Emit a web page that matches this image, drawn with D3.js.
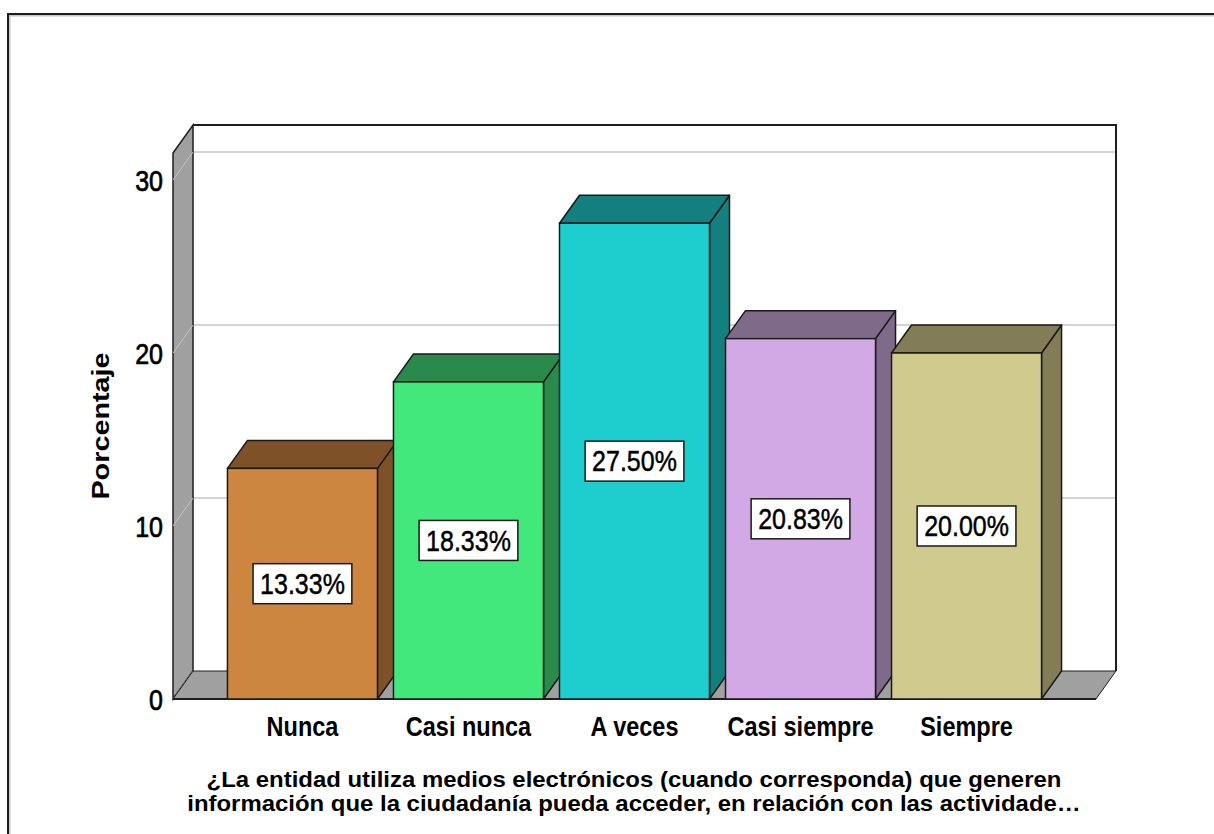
<!DOCTYPE html>
<html>
<head>
<meta charset="utf-8">
<script src="https://cdn.jsdelivr.net/npm/d3@7/dist/d3.min.js"></script>
<style>
  html, body { margin: 0; padding: 0; background: #fff; }
  svg { display: block; }
  text { font-family: "Liberation Sans", Arial, sans-serif; fill: #000; }
</style>
</head>
<body>
<svg id="chart" width="1214" height="834"></svg>
<script>
// Response categories and their percentages
const categories = ["Nunca", "Casi nunca", "A veces", "Casi siempre", "Siempre"];
const percentages = [13.33, 18.33, 27.50, 20.83, 20.00];
const yTicks = [0, 10, 20, 30];
const frontColors = ["#cd8640", "#43e87c", "#1ecece", "#d2a9e4", "#d0ca8f"];
const sideColors  = ["#7f5128", "#2a8a4c", "#137f7f", "#7f6a8a", "#827d57"];
const yTitle = "Porcentaje";
const xTitleLines = [
  "¿La entidad utiliza medios electrónicos (cuando corresponda) que generen",
  "información que la ciudadanía pueda acceder, en relación con las actividade…"
];

const svg = d3.select("#chart");
const STRETCH = 1.2;      // vertical stretch applied to text glyphs
const depthX = 20, depthY = -28;   // 3D depth offset

const x0 = 173, x1 = 1096;
const yBase = 699, yTop = 153;

const x = d3.scaleBand().domain(categories).range([x0, x1])
  .paddingInner(0.0964).paddingOuter(0.328);
const y = d3.scaleLinear().domain([0, 31.56]).range([yBase, yTop]);

// Outer frame
svg.append("path")
  .attr("d", "M9,900 L9,15 L1300,15")
  .attr("fill", "none").attr("stroke", "#c8c8c8").attr("stroke-width", 3);
svg.append("path")
  .attr("d", "M8,900 L8,14 L1300,14")
  .attr("fill", "none").attr("stroke", "#1e1e1e").attr("stroke-width", 2);

// Back wall
svg.append("rect")
  .attr("x", x0 + depthX).attr("y", yTop + depthY)
  .attr("width", x1 - x0).attr("height", yBase - yTop)
  .attr("fill", "#fff");

// Gridlines on the back wall
svg.append("g").selectAll("line").data(yTicks.filter(d => d > 0)).join("line")
  .attr("x1", x0 + depthX).attr("x2", x1 + depthX)
  .attr("y1", d => y(d) + depthY).attr("y2", d => y(d) + depthY)
  .attr("stroke", "#d4d4d4").attr("stroke-width", 2);

// Back wall border (top and right)
svg.append("path")
  .attr("d", `M${x0 + depthX},${yTop + depthY} L${x1 + depthX},${yTop + depthY} L${x1 + depthX},${yBase + depthY}`)
  .attr("fill", "none").attr("stroke", "#1e1e1e").attr("stroke-width", 2);

// Side wall
svg.append("path")
  .attr("d", `M${x0},${yTop} L${x0 + depthX},${yTop + depthY} L${x0 + depthX},${yBase + depthY} L${x0},${yBase} Z`)
  .attr("fill", "#a0a0a0").attr("stroke", "#1e1e1e").attr("stroke-width", 1.5);

// Gridlines continued on the side wall
svg.append("g").selectAll("line").data(yTicks).join("line")
  .attr("x1", x0).attr("x2", x0 + depthX)
  .attr("y1", d => y(d)).attr("y2", d => y(d) + depthY)
  .attr("stroke", "#c4c4c4").attr("stroke-width", 1);

// Floor
svg.append("path")
  .attr("d", `M${x0},${yBase} L${x0 + depthX},${yBase + depthY} L${x1 + depthX},${yBase + depthY} L${x1},${yBase} Z`)
  .attr("fill", "#a0a0a0").attr("stroke", "#1e1e1e").attr("stroke-width", 1);
svg.append("line")
  .attr("x1", x0).attr("x2", x1).attr("y1", yBase).attr("y2", yBase)
  .attr("stroke", "#1e1e1e").attr("stroke-width", 2);

// Bars (front, top and right faces), drawn left to right
const bars = svg.append("g").selectAll("g").data(categories).join("g");
bars.each(function (c, i) {
  const g = d3.select(this);
  const bx = x(c), bw = x.bandwidth();
  const by = y(percentages[i]);
  g.append("path")
    .attr("d", `M${bx + bw},${by} L${bx + bw + depthX},${by + depthY} L${bx + bw + depthX},${yBase + depthY} L${bx + bw},${yBase} Z`)
    .attr("fill", sideColors[i]).attr("stroke", "#1a1a1a").attr("stroke-width", 1.5)
    .attr("stroke-linejoin", "round");
  g.append("path")
    .attr("d", `M${bx},${by} L${bx + depthX},${by + depthY} L${bx + bw + depthX},${by + depthY} L${bx + bw},${by} Z`)
    .attr("fill", sideColors[i]).attr("stroke", "#1a1a1a").attr("stroke-width", 1.5)
    .attr("stroke-linejoin", "round");
  g.append("rect")
    .attr("x", bx).attr("y", by).attr("width", bw).attr("height", yBase - by)
    .attr("fill", frontColors[i]).attr("stroke", "#1a1a1a").attr("stroke-width", 1.5);
});

// Value labels in boxes
bars.each(function (c, i) {
  const g = d3.select(this);
  const cx = x(c) + x.bandwidth() / 2;
  const cy = (y(percentages[i]) + yBase) / 2;
  const lg = g.append("g").attr("transform", `translate(${cx},${cy})`);
  const t = lg.append("text")
    .attr("text-anchor", "middle")
    .attr("transform", `scale(1,${STRETCH})`)
    .attr("y", 8.5)
    .style("font-size", "25px")
    .style("stroke", "#000").style("stroke-width", 0.4)
    .text(percentages[i].toFixed(2) + "%");
  const w = t.node().getComputedTextLength();
  lg.insert("rect", "text")
    .attr("x", -w / 2 - 7).attr("y", -20)
    .attr("width", w + 14).attr("height", 40)
    .attr("fill", "#fff").attr("stroke", "#1a1a1a").attr("stroke-width", 1.5);
});

// Y tick labels
svg.append("g").selectAll("text").data(yTicks).join("text")
  .attr("transform", d => `translate(163,${y(d)}) scale(1,${STRETCH})`)
  .attr("y", 9)
  .attr("text-anchor", "end")
  .style("font-size", "25px")
  .style("stroke", "#000").style("stroke-width", 0.6)
  .text(d => d);

// Category labels
svg.append("g").selectAll("text").data(categories).join("text")
  .attr("transform", d => `translate(${x(d) + x.bandwidth() / 2},736) scale(1,${STRETCH})`)
  .attr("text-anchor", "middle")
  .style("font-size", "23.5px").style("font-weight", "bold")
  .text(d => d);

// Y axis title
svg.append("text")
  .attr("transform", `translate(109,426) rotate(-90) scale(${STRETCH},1)`)
  .attr("text-anchor", "middle")
  .style("font-size", "24px").style("font-weight", "bold")
  .text(yTitle);

// X axis title
svg.append("g").selectAll("text").data(xTitleLines).join("text")
  .attr("transform", (d, i) => `translate(634,${787 + i * 24}) scale(1.14,1.05)`)
  .attr("text-anchor", "middle")
  .style("font-size", "21px").style("font-weight", "bold")
  .text(d => d);
</script>
</body>
</html>
